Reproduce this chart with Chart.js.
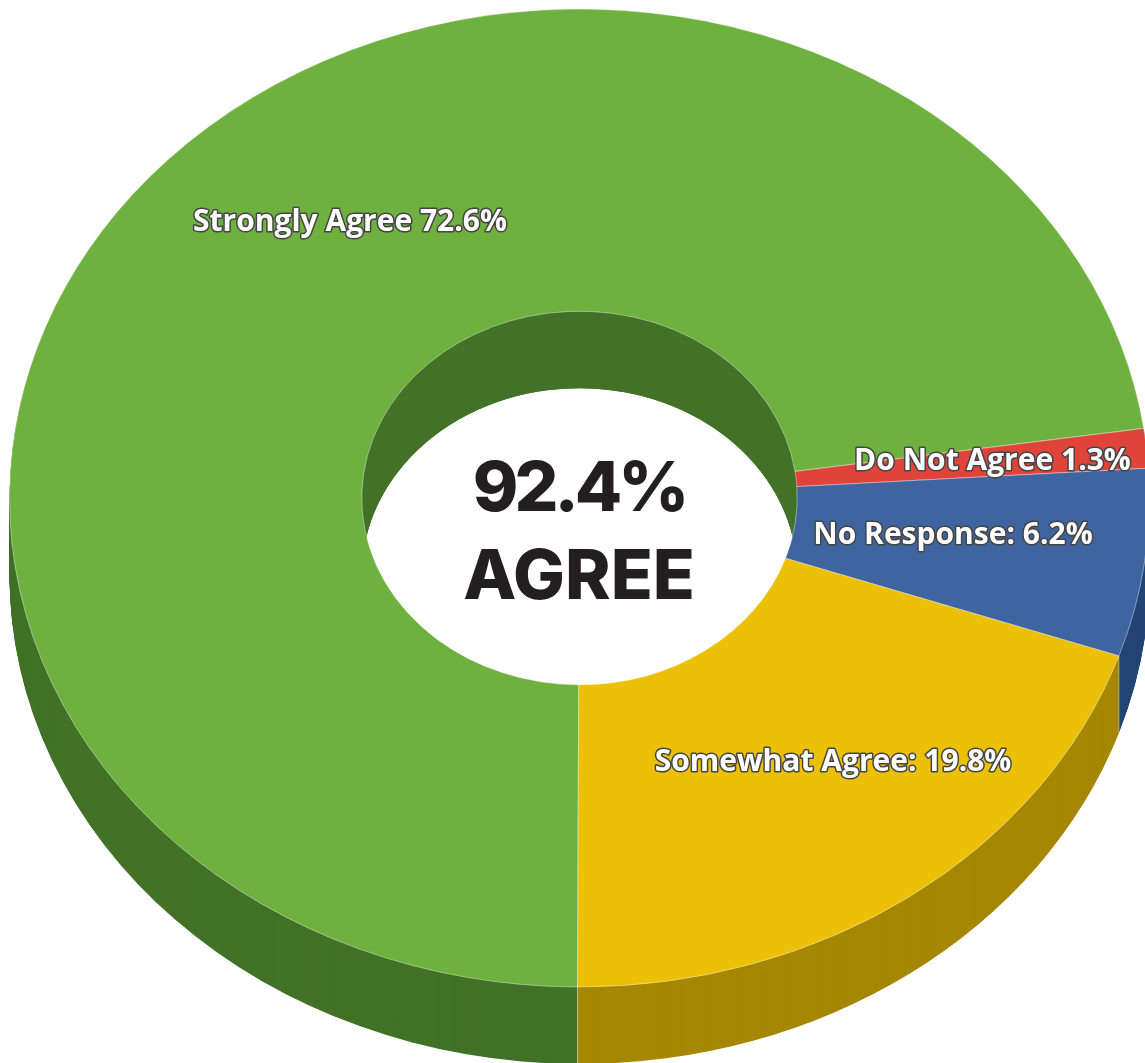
<!DOCTYPE html>
<html>
<head>
<meta charset="utf-8">
<title>92.4% Agree</title>
<script src="https://cdn.jsdelivr.net/npm/chart.js@4"></script>
<style>
  html, body { margin: 0; padding: 0; background: #fff; }
  canvas { display: block; }
</style>
</head>
<body>
<canvas id="chart" width="1145" height="1063"></canvas>
<script>
const categories = ['Strongly Agree', 'Do Not Agree', 'No Response', 'Somewhat Agree'];
const values = [72.6, 1.3, 6.2, 19.8];
const sliceLabels = ['Strongly Agree 72.6%', 'Do Not Agree 1.3%', 'No Response: 6.2%', 'Somewhat Agree: 19.8%'];
const topColors = ['#6fb13f', '#e0433a', '#3f65a0', '#ebc007'];
const wallColors = ['#417227', '#9e2a25', '#254676', '#a68703'];
const centerLines = ['92.4%', 'AGREE'];

// label centres
const labelSpots = [[350, 222], [992.5, 461], [953, 535], [833, 762]];
const centerSpots = [[579, 490], [579, 578]];
const centerTracking = ['-4px', '0px'];   // the digits run narrow in the reference

const SQUASH = 489 / 570;   // vertical flattening of the disc
const DEPTH = 77;           // height of the side wall in px
const SEAM = 'rgba(255,255,255,0.45)';

function ringPath(ctx, arc, off) {
    const ry = arc.outerRadius * SQUASH;
    const iy = arc.innerRadius * SQUASH;
    ctx.beginPath();
    ctx.ellipse(arc.x, arc.y + off, arc.outerRadius, ry, 0, arc.startAngle, arc.endAngle);
    ctx.ellipse(arc.x, arc.y + off, arc.innerRadius, iy, 0, arc.endAngle, arc.startAngle, true);
    ctx.closePath();
}

const disc3d = {
    id: 'disc3d',
    beforeDatasetsDraw(chart) {
        const ctx = chart.ctx;
        const arcs = chart.getDatasetMeta(0).data.map(a =>
            a.getProps(['x', 'y', 'startAngle', 'endAngle', 'innerRadius', 'outerRadius'], true));
        const a0 = arcs[0];

        // stack copies from the bottom up so the nearest rim wins
        for (let off = DEPTH; off >= 1; off--) {
            arcs.forEach((arc, i) => {
                ctx.fillStyle = wallColors[i];
                ringPath(ctx, arc, off);
                ctx.fill();
            });
        }

        // the inside wall of the hole is all one colour in the reference
        ctx.save();
        ctx.beginPath();
        ctx.ellipse(a0.x, a0.y, a0.innerRadius, a0.innerRadius * SQUASH, 0, 0, Math.PI * 2);
        ctx.clip();
        ctx.beginPath();
        ctx.rect(0, 0, chart.width, chart.height);
        ctx.ellipse(a0.x, a0.y + DEPTH, a0.innerRadius, a0.innerRadius * SQUASH, 0, 0, Math.PI * 2);
        ctx.fillStyle = wallColors[0];
        ctx.fill('evenodd');
        ctx.restore();

        // seams on the outer wall where two slices meet
        ctx.strokeStyle = SEAM;
        ctx.lineWidth = 1;
        arcs.forEach(arc => {
            if (Math.sin(arc.startAngle) > 0) {
                const x = arc.x + arc.outerRadius * Math.cos(arc.startAngle);
                const y = arc.y + arc.outerRadius * SQUASH * Math.sin(arc.startAngle);
                ctx.beginPath();
                ctx.moveTo(x, y);
                ctx.lineTo(x, y + DEPTH);
                ctx.stroke();
            }
        });

        // flatten the top face
        ctx.save();
        ctx.translate(0, a0.y);
        ctx.scale(1, SQUASH);
        ctx.translate(0, -a0.y);
    },
    afterDatasetsDraw(chart) {
        const ctx = chart.ctx;
        ctx.restore();

        ctx.textAlign = 'center';
        ctx.textBaseline = 'middle';
        ctx.lineJoin = 'round';

        ctx.font = '700 30px "Open Sans"';
        sliceLabels.forEach((text, i) => {
            const [x, y] = labelSpots[i];
            ctx.strokeStyle = '#444444';
            ctx.lineWidth = 3;
            ctx.strokeText(text, x, y);
            ctx.fillStyle = '#ffffff';
            ctx.fillText(text, x, y);
        });

        ctx.fillStyle = '#231f20';
        ctx.font = '800 69px Inter';
        centerLines.forEach((text, i) => {
            ctx.letterSpacing = centerTracking[i];
            ctx.fillText(text, centerSpots[i][0], centerSpots[i][1]);
        });
        ctx.letterSpacing = '0px';
    }
};

new Chart(document.getElementById('chart').getContext('2d'), {
    type: 'doughnut',
    data: {
        labels: categories,
        datasets: [{
            data: values,
            backgroundColor: topColors,
            borderColor: SEAM,
            borderWidth: 1,
            clip: false
        }]
    },
    options: {
        responsive: false,
        animation: false,
        rotation: 180.2,
        radius: 570,
        cutout: '38.2%',
        layout: { padding: { left: 14, bottom: 67 } },
        plugins: {
            legend: { display: false },
            tooltip: { enabled: false }
        }
    },
    plugins: [disc3d]
});
</script>
</body>
</html>
